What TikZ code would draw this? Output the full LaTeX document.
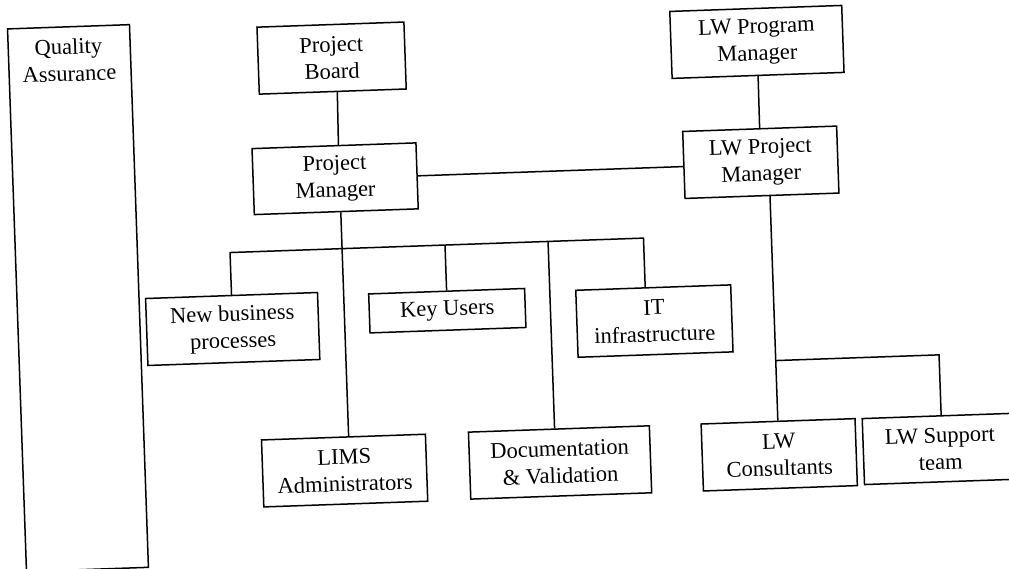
\documentclass[tikz,border=0pt]{standalone}
\usepackage{fontspec}
\setmainfont{Liberation Serif}
\begin{document}
\begin{tikzpicture}[x=1pt,y=-1pt,
  box/.style={draw, line width=1.5pt, inner sep=0pt, align=center,
    font=\fontsize{22.5pt}{27pt}\selectfont},
  label/.style={inner sep=0pt, align=center, font=\fontsize{22.5pt}{27pt}\selectfont},
  link/.style={line width=1.5pt}]
\useasboundingbox (0,0) rectangle (1009,568);
\clip (0,0) rectangle (1009,568);
\fill[white] (0,0) rectangle (1009,568);
\begin{scope}[transform canvas={rotate around={2:(504,284)}}]
  % quality assurance column
  \node[box, minimum width=122pt, minimum height=543pt, anchor=north west] (qa) at (16,11) {};
  \node[label] (qatext) at (77,45) {Quality\\Assurance};

  % management boxes
  \node[box, minimum width=147pt, minimum height=67pt] (pb) at (339.6,52.2) {Project\\Board};
  \node[box, minimum width=164pt, minimum height=66pt] (pm) at (338.9,172.9) {Project\\Manager};
  \node[box, minimum width=172pt, minimum height=67pt] (lwprog) at (765.2,50.9) {LW Program\\Manager};
  \node[box, minimum width=154pt, minimum height=67pt] (lwpm) at (764.9,171.3) {LW Project\\Manager};

  % project teams
  \node[box, minimum width=172pt, minimum height=67pt] (nbp) at (231.3,319.5) {New business\\processes};
  \node[box, minimum width=156pt, minimum height=39pt] (ku) at (446.4,308.7) {Key Users};
  \node[box, minimum width=155pt, minimum height=67pt] (it) at (653,326.3) {IT\\infrastructure};
  \node[box, minimum width=164pt, minimum height=67pt] (lims) at (338.2,464.9) {LIMS\\Administrators};
  \node[box, minimum width=181pt, minimum height=67pt] (doc) at (553.8,464.3) {Documentation\\\& Validation};

  % supplier teams
  \node[box, minimum width=154pt, minimum height=67pt] (lwc) at (773.1,464.3) {LW\\Consultants};
  \node[box, minimum width=154pt, minimum height=66pt] (lws) at (934.3,464) {LW Support\\team};

  % junction points
  \coordinate (barl) at (232,243);
  \coordinate (lwbar) at (773,370);
  \coordinate (itT) at ([xshift=-8pt]it.north);
  \coordinate (docT) at ([xshift=-4.3pt]doc.north);
  \coordinate (lwsT) at ([xshift=2pt]lws.north);
  \coordinate (pbB) at ([xshift=4.5pt]pb.south);
  \coordinate (pmT) at ([xshift=4.5pt]pm.north);
  \coordinate (pmB) at ([xshift=4.5pt]pm.south);
  \coordinate (lwpmB) at ([xshift=8pt]lwpm.south);

  % connectors
  \draw[link] (pbB) -- (pmT);
  \draw[link] (pm.east) -- (pm.east -| lwpm.west);
  \draw[link] (lwprog.south) -- (lwpm.north);
  \draw[link] (pmB) -- (pmB |- lims.north);
  \draw[link] (nbp.north) |- (itT |- barl) -- (itT);
  \draw[link] (ku.north) -- (ku.north |- barl);
  \draw[link] (docT) -- (docT |- barl);
  \draw[link] (lwpmB) -- (lwpmB |- lwc.north);
  \draw[link] (lwc.north |- lwbar) -| (lwsT);
\end{scope}
\end{tikzpicture}
\end{document}
